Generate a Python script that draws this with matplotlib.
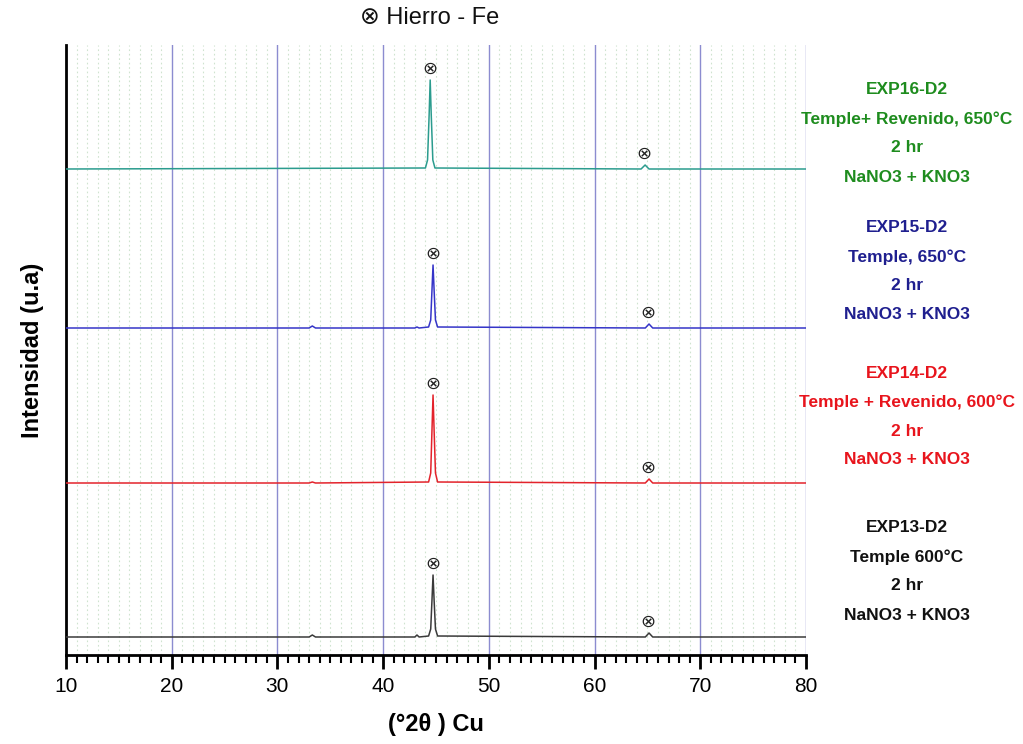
import matplotlib
matplotlib.use("Agg")
import matplotlib.pyplot as plt
from matplotlib.ticker import MultipleLocator

# ---- data (intensity in arbitrary units) ----
black_x = [10, 33.0, 33.3, 33.6, 43.0, 43.2, 43.4, 44.3, 44.5, 44.62, 44.72, 44.82, 44.95, 45.15, 64.8, 65.15, 65.5, 80]
black_y = [18, 18, 20, 18, 18, 20, 18, 19, 26, 55, 80, 55, 26, 19, 18, 22, 18, 18]

red_x = [10, 33.0, 33.3, 33.6, 44.3, 44.5, 44.62, 44.72, 44.82, 44.95, 45.15, 64.8, 65.15, 65.5, 80]
red_y = [172, 172, 173, 172, 173, 182, 225, 260, 225, 182, 173, 172, 176, 172, 172]

blue_x = [10, 33.0, 33.3, 33.6, 43.0, 43.2, 43.4, 44.3, 44.5, 44.62, 44.72, 44.82, 44.95, 45.15, 64.8, 65.15, 65.5, 80]
blue_y = [327, 327, 329, 327, 327, 328, 327, 328, 335, 365, 390, 365, 335, 328, 327, 331, 327, 327]

teal_x = [10, 44.0, 44.2, 44.35, 44.45, 44.55, 44.7, 44.9, 64.4, 64.78, 65.15, 80]
teal_y = [486, 487, 495, 540, 575, 540, 495, 487, 486, 490, 486, 486]

peaks_main = [44.72, 44.72, 44.72, 44.45]   # black, red, blue, teal
peaks_small = [65.15, 65.15, 65.15, 64.78]

labels = [
    ["EXP13-D2", "Temple 600°C", "2 hr", "NaNO3 + KNO3"],
    ["EXP14-D2", "Temple + Revenido, 600°C", "2 hr", "NaNO3 + KNO3"],
    ["EXP15-D2", "Temple, 650°C", "2 hr", "NaNO3 + KNO3"],
    ["EXP16-D2", "Temple+ Revenido, 650°C", "2 hr", "NaNO3 + KNO3"],
]
title_text = "⊗ Hierro - Fe"
xlabel_text = "(°2θ ) Cu"
ylabel_text = "Intensidad (u.a)"

line_colors = ["#3a3a3a", "#e3232b", "#3535c8", "#2b9c8e"]
text_colors = ["#111111", "#e8141c", "#1f1f8f", "#1e8c1e"]

plt.rcParams['font.family'] = ['Liberation Sans', 'DejaVu Sans']

fig = plt.figure(figsize=(10.23, 7.44), dpi=100)
ax = fig.add_axes([66/1023, 1-655/744, 740/1023, 610/744])

xs = [black_x, red_x, blue_x, teal_x]
ys = [black_y, red_y, blue_y, teal_y]
for x, y, c in zip(xs, ys, line_colors):
    ax.plot(x, y, color=c, lw=1.1, zorder=3)

ax.set_xlim(10, 80)
ax.set_ylim(0, 610)

# grid
ax.xaxis.set_major_locator(MultipleLocator(10))
ax.xaxis.set_minor_locator(MultipleLocator(1))
ax.grid(which='major', axis='x', color='#8c8cd0', lw=1.0, zorder=1)
ax.grid(which='minor', axis='x', color='#cfe3cf', lw=0.8, ls=(0, (1.5, 2.5)), zorder=0)
ax.set_yticks([])

for s in ['top', 'right']:
    ax.spines[s].set_visible(False)
ax.spines['left'].set_linewidth(2.0)
ax.spines['bottom'].set_linewidth(2.0)

ax.tick_params(axis='x', which='major', direction='out', length=10, width=2, labelsize=15, pad=6)
ax.tick_params(axis='x', which='minor', direction='out', length=6, width=1.5)

ax.set_xlabel(xlabel_text, fontsize=17, fontweight='bold', labelpad=12)
ax.set_ylabel(ylabel_text, fontsize=17, fontweight='bold', labelpad=16)

# peak markers
for i, (x, y) in enumerate(zip(xs, ys)):
    top = max(y)
    ax.text(peaks_main[i], top + 11, "⊗", ha='center', va='center', fontsize=13,
            family='DejaVu Sans', color='#222222', zorder=4)
    ax.text(peaks_small[i] - 0.1, y[-1] + 15, "⊗", ha='center', va='center', fontsize=13,
            family='DejaVu Sans', color='#222222', zorder=4)

# right-side labels
label_tops = [528, 373, 228, 90]
for lab, top_px, col in zip(labels, label_tops, text_colors):
    for j, line in enumerate(lab):
        fig.text(907/1023, 1 - (top_px + j*29)/744, line, ha='center', va='center',
                 fontsize=12.5, fontweight='bold', color=col)

fig.text(430/1023, 1 - 18/744, title_text, ha='center', va='center', fontsize=17,
         color='#111111')

fig.savefig("out.png", dpi=100)
